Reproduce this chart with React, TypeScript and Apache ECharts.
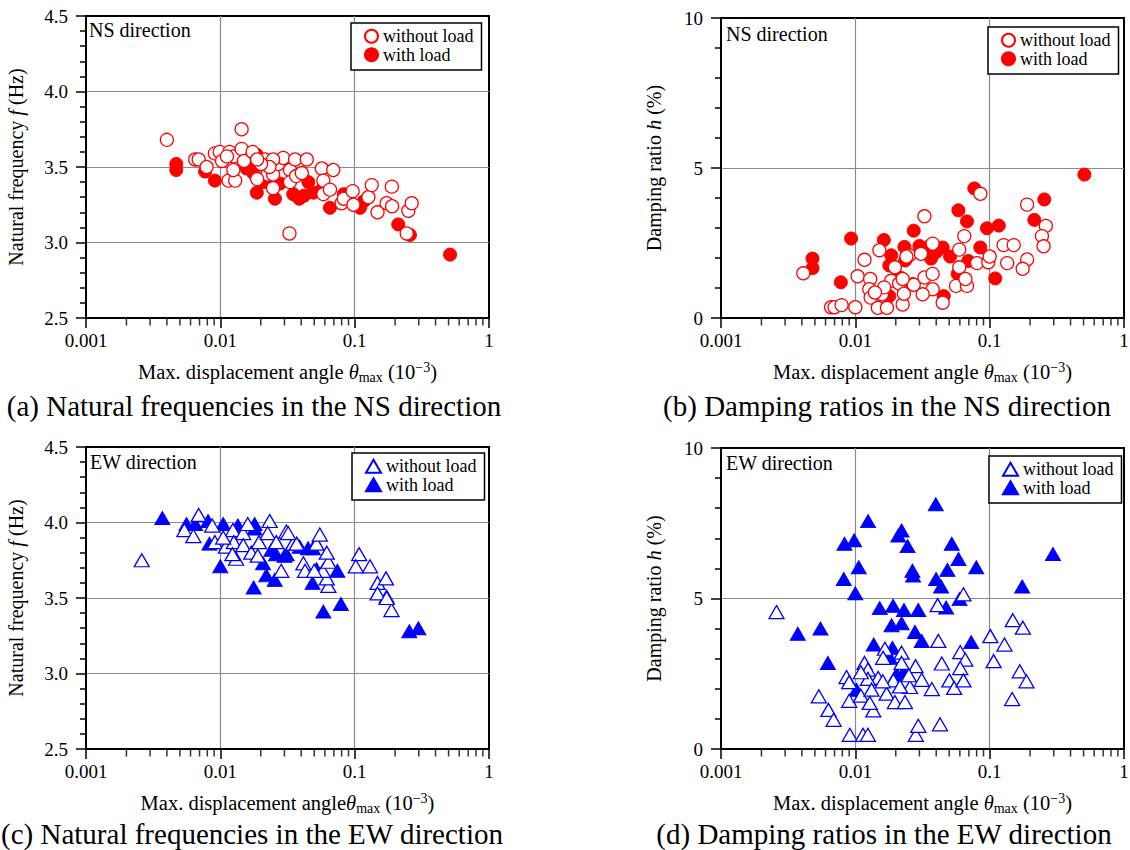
import React, { useEffect, useRef } from "react";
import * as echarts from "echarts";

const FONT = "Liberation Serif, Times New Roman, serif";

// minor tick values of the log x axes
const X_MINOR_TICKS = [
  0.002, 0.003, 0.004, 0.005, 0.006, 0.007, 0.008, 0.009,
  0.02, 0.03, 0.04, 0.05, 0.06, 0.07, 0.08, 0.09,
  0.2, 0.3, 0.4, 0.5, 0.6, 0.7, 0.8, 0.9,
];

// (a) NS natural frequency
const NS_F_OPEN = [
  [0.004, 3.68], [0.0065, 3.55], [0.0069, 3.55], [0.0079, 3.5], [0.0091, 3.59], [0.0099, 3.6],
  [0.0103, 3.54], [0.0117, 3.6], [0.0125, 3.57], [0.0115, 3.41], [0.0129, 3.41], [0.0125, 3.48],
  [0.0144, 3.75], [0.0144, 3.62], [0.015, 3.54], [0.0174, 3.6], [0.0205, 3.52], [0.0215, 3.55],
  [0.0225, 3.45], [0.0247, 3.45], [0.0247, 3.36], [0.027, 3.52], [0.0294, 3.56], [0.0247, 3.55],
  [0.033, 3.48], [0.033, 3.4], [0.036, 3.55], [0.0367, 3.44], [0.0404, 3.46], [0.044, 3.55],
  [0.0569, 3.49], [0.0585, 3.41], [0.0585, 3.32], [0.0655, 3.35], [0.0693, 3.48], [0.08, 3.26],
  [0.083, 3.29], [0.0966, 3.34], [0.098, 3.25], [0.1265, 3.3], [0.134, 3.38], [0.148, 3.2],
  [0.173, 3.26], [0.189, 3.37], [0.19, 3.24], [0.251, 3.21], [0.266, 3.26], [0.244, 3.06],
  [0.0327, 3.06], [0.0188, 3.42], [0.0232, 3.5], [0.0201, 3.52], [0.0188, 3.55], [0.0112, 3.57],
];
const NS_F_FILL = [
  [0.0047, 3.52], [0.0047, 3.48], [0.0077, 3.47], [0.0091, 3.41], [0.0157, 3.49], [0.0187, 3.58],
  [0.0176, 3.46], [0.0209, 3.4], [0.0187, 3.33], [0.0255, 3.29], [0.0278, 3.39], [0.0349, 3.32],
  [0.0387, 3.29], [0.0452, 3.4], [0.0493, 3.33], [0.0569, 3.35], [0.0655, 3.23], [0.1096, 3.23],
  [0.116, 3.27], [0.211, 3.12], [0.258, 3.05], [0.513, 2.92], [0.042, 3.31], [0.06, 3.36],
  [0.083, 3.32], [0.016, 3.52], [0.023, 3.4],
];

// (b) NS damping ratio
const NS_H_OPEN = [
  [0.0041, 1.49], [0.0066, 0.36], [0.007, 0.36], [0.0079, 0.43], [0.01, 0.36], [0.0117, 1.94],
  [0.0104, 1.39], [0.0129, 1.3], [0.0127, 0.96], [0.013, 0.68], [0.0147, 0.34], [0.0172, 0.34],
  [0.0151, 2.26], [0.0158, 0.79], [0.0185, 1.24], [0.0197, 1.69], [0.0212, 1.15], [0.0225, 0.45],
  [0.023, 0.81], [0.0252, 2.09], [0.0272, 1.11], [0.0327, 3.39], [0.0327, 1.35], [0.0376, 2.48],
  [0.0376, 1.47], [0.0376, 0.96], [0.0317, 0.79], [0.0447, 0.51], [0.0308, 2.14], [0.0594, 2.28],
  [0.0647, 2.73], [0.0594, 1.69], [0.0562, 1.07], [0.0678, 1.07], [0.066, 1.3], [0.0805, 1.83],
  [0.0853, 4.14], [0.0977, 1.86], [0.1, 2.05], [0.127, 2.43], [0.151, 2.43], [0.135, 1.83],
  [0.19, 3.78], [0.19, 1.95], [0.176, 1.64], [0.262, 3.07], [0.245, 2.73], [0.252, 2.39],
  [0.0225, 1.3], [0.0164, 1.02], [0.014, 0.85], [0.024, 2.05],
];
const NS_H_FILL = [
  [0.507, 4.78], [0.0769, 4.32], [0.255, 3.95], [0.0585, 3.59], [0.215, 3.27], [0.0678, 3.22],
  [0.0955, 2.99], [0.117, 3.08], [0.0272, 2.91], [0.0093, 2.65], [0.0163, 2.6], [0.0232, 2.37],
  [0.0356, 2.39], [0.0447, 2.35], [0.0507, 2.05], [0.0366, 1.98], [0.0851, 2.35], [0.0693, 1.9],
  [0.0185, 2.09], [0.0179, 1.75], [0.0235, 1.92], [0.0048, 1.98], [0.0048, 1.66], [0.0078, 1.19],
  [0.11, 1.32], [0.0578, 1.47], [0.0215, 1.35], [0.0179, 0.73], [0.0455, 0.73], [0.0267, 1.13],
  [0.04, 2.2], [0.03, 2.4],
];

// (c) EW natural frequency
const EW_F_OPEN = [
  [0.0026, 3.75], [0.0069, 4.05], [0.0054, 3.95], [0.0063, 3.91], [0.0091, 3.87], [0.011, 3.84],
  [0.0124, 3.95], [0.0148, 3.93], [0.0126, 3.87], [0.0148, 3.85], [0.0131, 3.76], [0.0123, 3.79],
  [0.017, 3.8], [0.016, 3.99], [0.0194, 3.87], [0.0233, 4.01], [0.0225, 3.93], [0.031, 3.94],
  [0.0261, 3.87], [0.0284, 3.68], [0.0347, 3.86], [0.0087, 3.98], [0.108, 3.79], [0.102, 3.71],
  [0.13, 3.71], [0.148, 3.6], [0.171, 3.63], [0.148, 3.53], [0.188, 3.42], [0.173, 3.5],
  [0.0637, 3.58], [0.062, 3.63], [0.058, 3.68], [0.0637, 3.74], [0.062, 3.8], [0.052, 3.86],
  [0.055, 3.92], [0.0415, 3.73], [0.0427, 3.68], [0.037, 3.86], [0.032, 3.93], [0.05, 3.68],
  [0.019, 3.78], [0.0105, 3.9],
];
const EW_F_FILL = [
  [0.0037, 4.03], [0.0056, 3.99], [0.0065, 3.99], [0.0081, 4.01], [0.0083, 3.86], [0.01, 3.71],
  [0.0105, 3.99], [0.0135, 3.98], [0.018, 3.99], [0.018, 3.96], [0.0208, 3.73], [0.022, 3.65],
  [0.0254, 3.62], [0.026, 3.79], [0.03, 3.78], [0.0177, 3.57], [0.024, 3.82], [0.0743, 3.68],
  [0.079, 3.46], [0.0585, 3.41], [0.0486, 3.6], [0.173, 3.51], [0.255, 3.28], [0.298, 3.3],
  [0.0312, 3.79], [0.045, 3.83], [0.0488, 3.83], [0.039, 3.84], [0.052, 3.69],
];

// (d) EW damping ratio
const EW_H_OPEN = [
  [0.00259, 4.55], [0.0638, 5.14], [0.041, 4.78], [0.1486, 4.28], [0.1766, 4.03], [0.1012, 3.75],
  [0.1288, 3.47], [0.0415, 3.59], [0.0604, 3.22], [0.0658, 2.97], [0.107, 2.92], [0.044, 2.84],
  [0.0604, 2.69], [0.1675, 2.58], [0.188, 2.25], [0.147, 1.66], [0.0501, 2.28], [0.0544, 2.03],
  [0.0638, 2.28], [0.0371, 1.99], [0.0312, 2.3], [0.0281, 2.75], [0.0255, 2.06], [0.0221, 3.2],
  [0.0166, 3.33], [0.0161, 3.03], [0.0117, 2.86], [0.0124, 2.64], [0.0148, 2.36], [0.0124, 2.33],
  [0.0086, 2.39], [0.009, 2.22], [0.00535, 1.75], [0.0063, 1.3], [0.00689, 0.97], [0.009, 1.6],
  [0.011, 1.77], [0.0132, 1.97], [0.0171, 1.84], [0.0197, 1.56], [0.0234, 1.56], [0.0136, 1.28],
  [0.0128, 1.53], [0.0091, 0.47], [0.0114, 0.47], [0.0124, 0.47], [0.0282, 0.47], [0.0294, 0.77],
  [0.0427, 0.82], [0.0192, 2.28], [0.0215, 2.08], [0.016, 2.25], [0.011, 2.55], [0.0221, 2.86],
  [0.025, 2.45],
];
const EW_H_FILL = [
  [0.0397, 8.13], [0.01245, 7.57], [0.0221, 7.26], [0.0209, 7.09], [0.0083, 6.82], [0.0098, 6.93],
  [0.0245, 6.74], [0.0522, 6.82], [0.0586, 6.31], [0.0795, 6.04], [0.296, 6.48], [0.0106, 6.04],
  [0.0266, 5.92], [0.0269, 5.76], [0.0082, 5.65], [0.0399, 5.65], [0.0435, 5.4], [0.0485, 5.95],
  [0.1746, 5.4], [0.01, 5.17], [0.0597, 4.98], [0.0474, 4.7], [0.0152, 4.68], [0.0191, 4.76],
  [0.023, 4.62], [0.0294, 4.62], [0.0186, 4.11], [0.0221, 4.18], [0.00373, 3.83], [0.0055, 4.0],
  [0.0278, 3.89], [0.0312, 3.59], [0.0729, 3.55], [0.0137, 3.47], [0.0189, 3.36], [0.00625, 2.86],
  [0.0181, 3.03], [0.0228, 2.55], [0.0203, 2.49], [0.0102, 1.97],
];

const LEGEND_OPEN = "without load";
const LEGEND_FILL = "with load";

const RICH = {
  i: { fontStyle: "italic", fontSize: 20.5, fontFamily: FONT, color: "#000", lineHeight: 24 },
  sub: { fontSize: 14, fontFamily: FONT, color: "#000", lineHeight: 13, verticalAlign: "bottom" },
  sup: { fontSize: 14, fontFamily: FONT, color: "#000", lineHeight: 13, verticalAlign: "top" },
};

const PANELS = [
  {
    key: "a", grid: { left: 86, top: 16, width: 403, height: 302 },
    y: { min: 2.5, max: 4.5, interval: 0.5, fixed: true, name: "Natural frequency {i|f} (Hz)", gap: 58 },
    xName: "Max. displacement angle {i|θ}{sub|max} (10{sup|−3})",
    open: NS_F_OPEN, fill: NS_F_FILL, color: "#ff0000", symbol: "circle",
    legend: { left: 351, top: 23 }, label: "NS direction", labelPos: [89, 20],
    caption: "(a) Natural frequencies in the NS direction", capX: 254, capY: 391,
  },
  {
    key: "b", grid: { left: 721, top: 18, width: 403, height: 300 },
    y: { min: 0, max: 10, interval: 5, fixed: false, name: "Damping ratio {i|h} (%)", gap: 55 },
    xName: "Max. displacement angle {i|θ}{sub|max} (10{sup|−3})",
    open: NS_H_OPEN, fill: NS_H_FILL, color: "#ff0000", symbol: "circle",
    legend: { left: 988, top: 27 }, label: "NS direction", labelPos: [726, 24],
    caption: "(b) Damping ratios in the NS direction", capX: 887, capY: 391,
  },
  {
    key: "c", grid: { left: 86, top: 447, width: 403, height: 302 },
    y: { min: 2.5, max: 4.5, interval: 0.5, fixed: true, name: "Natural frequency {i|f} (Hz)", gap: 58 },
    xName: "Max. displacement angle{i|θ}{sub|max} (10{sup|−3})",
    open: EW_F_OPEN, fill: EW_F_FILL, color: "#0000ff", symbol: "triangle",
    legend: { left: 352, top: 453 }, label: "EW direction", labelPos: [90, 452],
    caption: "(c) Natural frequencies in the EW direction", capX: 252, capY: 819,
  },
  {
    key: "d", grid: { left: 721, top: 448, width: 403, height: 301 },
    y: { min: 0, max: 10, interval: 5, fixed: false, name: "Damping ratio {i|h} (%)", gap: 55 },
    xName: "Max. displacement angle {i|θ}{sub|max} (10{sup|−3})",
    open: EW_H_OPEN, fill: EW_H_FILL, color: "#0000ff", symbol: "triangle",
    legend: { left: 989, top: 456 }, label: "EW direction", labelPos: [726, 453],
    caption: "(d) Damping ratios in the EW direction", capX: 884, capY: 819,
  },
];

function buildOption() {
  const grid: any[] = [];
  const xAxis: any[] = [];
  const yAxis: any[] = [];
  const series: any[] = [];
  const legend: any[] = [];
  const title: any[] = [];
  const graphic: any[] = [];

  PANELS.forEach((p, i) => {
    grid.push({
      ...p.grid,
      containLabel: false,
      outerBoundsMode: "none",
      show: true,
      borderColor: "#000",
      borderWidth: 2,
      backgroundColor: "transparent",
    });
    xAxis.push({
      type: "log", logBase: 10, min: 0.001, max: 1, gridIndex: i,
      name: p.xName, nameLocation: "middle", nameGap: 42,
      nameTextStyle: { fontSize: 20.5, fontFamily: FONT, color: "#000", lineHeight: 24, rich: RICH },
      axisLine: { show: true, lineStyle: { color: "#000", width: 2 } },
      axisTick: { show: true, inside: false, length: 10, lineStyle: { color: "#000", width: 1.5 } },
      axisLabel: { show: true, margin: 13, fontSize: 19, fontFamily: FONT, color: "#000" },
      splitLine: { show: true, showMinLine: false, showMaxLine: false, lineStyle: { color: "#8a8a8a", width: 1.2 } },
    });
    yAxis.push({
      type: "value", gridIndex: i, min: p.y.min, max: p.y.max, interval: p.y.interval,
      name: p.y.name, nameLocation: "middle", nameGap: p.y.gap,
      nameTextStyle: { fontSize: 20, fontFamily: FONT, color: "#000", lineHeight: 22, rich: RICH },
      axisLine: { show: true, lineStyle: { color: "#000", width: 2 } },
      axisTick: { show: true, inside: false, length: 10, lineStyle: { color: "#000", width: 1.5 } },
      minorTick: { show: true, splitNumber: 5, length: 6, lineStyle: { color: "#000", width: 1.5 } },
      axisLabel: {
        show: true, margin: 18, fontSize: 19, fontFamily: FONT, color: "#000",
        formatter: p.y.fixed ? (v: number) => v.toFixed(1) : (v: number) => String(v),
      },
      splitLine: { show: true, showMinLine: false, showMaxLine: false, lineStyle: { color: "#8a8a8a", width: 1.2 } },
    });

    const isTri = p.symbol === "triangle";
    const size = isTri ? [15, 13] : 13;
    const nOpen = p.key + ":" + LEGEND_OPEN;
    const nFill = p.key + ":" + LEGEND_FILL;

    // minor ticks of the log x axis, placed on the axis by the library's own scales
    series.push({
      type: "scatter", name: p.key + ":minor ticks", xAxisIndex: i, yAxisIndex: i,
      data: X_MINOR_TICKS.map((v) => [v, p.y.min]),
      symbol: "rect", symbolSize: [1.5, 7], symbolOffset: [0, 4],
      itemStyle: { color: "#000" }, clip: false, silent: true, z: 4,
      emphasis: { disabled: true },
    });
    series.push({
      type: "scatter", name: nFill, xAxisIndex: i, yAxisIndex: i, data: p.fill,
      symbol: p.symbol, symbolSize: size,
      itemStyle: { color: p.color, borderColor: p.color, borderWidth: 1, opacity: 1 },
      emphasis: { disabled: true }, silent: true,
    });
    series.push({
      type: "scatter", name: nOpen, xAxisIndex: i, yAxisIndex: i, data: p.open,
      symbol: p.symbol, symbolSize: size,
      itemStyle: { color: "#ffffff", borderColor: p.color, borderWidth: 1.3, opacity: 1 },
      emphasis: { disabled: true }, silent: true,
    });
    legend.push({
      orient: "vertical", left: p.legend.left, top: p.legend.top,
      padding: [4, 8, 6, 13], itemGap: 0,
      itemWidth: isTri ? 15 : 13, itemHeight: 13,
      backgroundColor: "#fff", borderColor: "#000", borderWidth: 1.5, borderRadius: 0,
      selectedMode: false,
      data: [nOpen, nFill],
      formatter: (n: string) => n.split(":")[1],
      textStyle: { fontSize: 18, fontFamily: FONT, color: "#000", lineHeight: 18.5, padding: [0, 0, 0, 0] },
    });
    title.push({
      text: p.caption, left: p.capX, top: p.capY, textAlign: "center", padding: 0,
      textStyle: { fontSize: 29, fontWeight: "normal", fontFamily: FONT, color: "#000", lineHeight: 29 },
    });
    graphic.push({
      type: "text", left: p.labelPos[0], top: p.labelPos[1], z: 10,
      style: { text: p.label, fontSize: 20, fontFamily: FONT, fill: "#000" },
    });
  });

  return {
    animation: false,
    backgroundColor: "#fff",
    textStyle: { fontFamily: FONT },
    grid, xAxis, yAxis, series, legend, title, graphic,
  };
}

export default function App() {
  const ref = useRef<HTMLDivElement>(null);
  useEffect(() => {
    if (!ref.current) return;
    const chart = echarts.init(ref.current, undefined, { renderer: "svg" });
    chart.setOption(buildOption() as any);
    return () => chart.dispose();
  }, []);
  return (
    <div
      ref={ref}
      style={{ position: "absolute", left: 0, top: 0, width: 1130, height: 850, background: "#fff" }}
    />
  );
}
